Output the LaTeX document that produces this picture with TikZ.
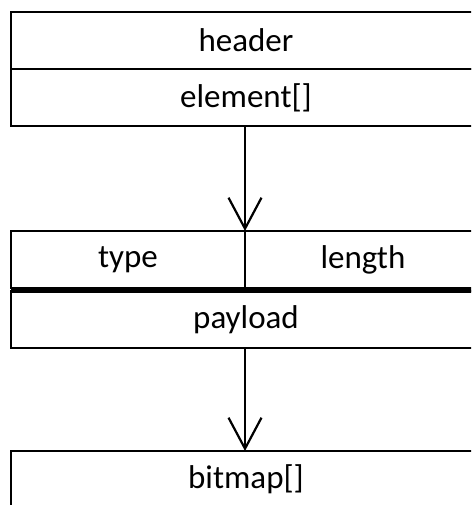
\documentclass[tikz,border=0pt]{standalone}
\usepackage{fontspec}
\setmainfont{Carlito}
\usetikzlibrary{arrows.meta,positioning}
\tikzset{
  field/.style={draw,line width=2pt,outer sep=0pt,minimum height=57pt,inner sep=0pt,
    font=\fontsize{33}{33}\selectfont},
  link/.style={line width=2.2pt,-{Straight Barb[length=31pt,width=33pt,line width=2.2pt]}}
}

\begin{document}
\begin{tikzpicture}[x=1pt,y=-1pt]
\clip (0,0) rectangle (471,505);
% record head
\node[field,minimum width=470pt,anchor=north west] (header) at (11,12) {header};
\node[field,minimum width=470pt,below=0pt of header] (element) {element[]};
% element
\node[field,minimum width=234pt,anchor=north west] (type) at (11,231) {type};
\node[field,minimum width=236pt,right=0pt of type] (length) {length};
\node[field,minimum width=470pt,anchor=north west] (payload) at (11,291) {payload};
\draw[line width=3.6pt] (payload.north west) -- (payload.north east);
% data
\node[field,minimum width=470pt,anchor=north west] (bitmap) at (11,451) {bitmap[]};
\draw[link] (element.south -| type.east) -- (type.north east);
\draw[link] (payload.south -| type.east) -- (bitmap.north -| type.east);
\end{tikzpicture}
\end{document}
